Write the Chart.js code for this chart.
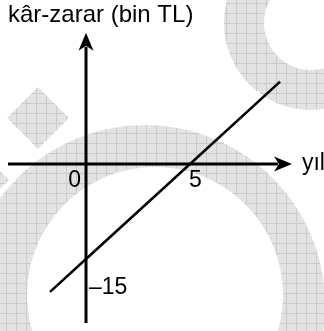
<!DOCTYPE html>
<html lang="tr">
<head>
    <meta charset="UTF-8">
    <title>kâr-zarar</title>
    <script src="https://cdn.jsdelivr.net/npm/chart.js"></script>
    <style>
        body, html {
            margin: 0;
            padding: 0;
            background: #ffffff;
            overflow: hidden;
        }
        canvas { display: block; }
    </style>
</head>
<body>
    <canvas id="karZarar" width="324" height="331"></canvas>

    <script>
    // values
    const lineX = [-1.73, 0, 5, 9.33];
    const lineY = [-20.2, -15, 0, 13];
    const xAxisRange = [-3.75, 9.9];
    const yAxisRange = [-25.1, 20.7];
    const xTicks = [0, 5];
    const xTickLabels = ['0', '5'];
    const yTicks = [-15];
    const yTickLabels = ['\u201315'];
    const yTitle = 'kâr-zarar (bin TL)';
    const xTitle = 'yıl';

    const FONT = "'Liberation Sans', Arial, sans-serif";

    // grey checkered watermark in the background
    const watermark = {
        id: 'watermark',
        beforeDraw(chart) {
            const ctx = chart.ctx;
            const pc = document.createElement('canvas');
            pc.width = 10; pc.height = 10;
            const p = pc.getContext('2d');
            p.fillStyle = '#e3e3e3';
            p.fillRect(0, 0, 10, 10);
            p.fillStyle = '#cbcbcb';
            p.fillRect(0, 0, 10, 1);
            p.fillRect(0, 0, 1, 10);
            const pattern = ctx.createPattern(pc, 'repeat');
            pattern.setTransform(new DOMMatrix([1, 0, 0, 1, 6, 3]));

            ctx.save();
            ctx.fillStyle = pattern;
            // diamonds
            [[38, 118], [-22, 180]].forEach(([cx, cy]) => {
                ctx.beginPath();
                ctx.moveTo(cx, cy - 31);
                ctx.lineTo(cx + 31, cy);
                ctx.lineTo(cx, cy + 31);
                ctx.lineTo(cx - 31, cy);
                ctx.closePath();
                ctx.fill();
            });
            // ring top right
            ctx.beginPath();
            ctx.arc(311, 23, 87, 0, Math.PI * 2);
            ctx.arc(311, 23, 47, 0, Math.PI * 2, true);
            ctx.fill('evenodd');
            // big arc
            ctx.beginPath();
            ctx.arc(145, 305, 180, 0, Math.PI * 2);
            ctx.arc(155, 295, 128, 0, Math.PI * 2, true);
            ctx.fill('evenodd');
            ctx.restore();
        }
    };

    function arrowHead(ctx, tx, ty, dir) {
        // dir: 'up' or 'right'
        ctx.save();
        ctx.translate(tx, ty);
        if (dir === 'up') ctx.rotate(-Math.PI / 2);
        ctx.beginPath();
        ctx.moveTo(0, 0);
        ctx.lineTo(-18, -7.5);
        ctx.lineTo(-13, 0);
        ctx.lineTo(-18, 7.5);
        ctx.closePath();
        ctx.fillStyle = '#000';
        ctx.fill();
        ctx.restore();
    }

    const axesAndLabels = {
        id: 'axesAndLabels',
        afterDatasetsDraw(chart) {
            const ctx = chart.ctx;
            const xs = chart.scales.x, ys = chart.scales.y;
            const x0 = xs.getPixelForValue(0), y0 = ys.getPixelForValue(0);

            ctx.save();
            ctx.strokeStyle = '#000';
            ctx.lineWidth = 3;
            // x axis
            const xl = xs.getPixelForValue(xAxisRange[0]);
            const xr = xs.getPixelForValue(xAxisRange[1]);
            ctx.beginPath();
            ctx.moveTo(xl, y0);
            ctx.lineTo(xr - 14, y0);
            ctx.stroke();
            arrowHead(ctx, xr, y0, 'right');
            // y axis
            const yb = ys.getPixelForValue(yAxisRange[0]);
            const yt = ys.getPixelForValue(yAxisRange[1]);
            ctx.beginPath();
            ctx.moveTo(x0, yb);
            ctx.lineTo(x0, yt + 14);
            ctx.stroke();
            arrowHead(ctx, x0, yt, 'up');

            ctx.fillStyle = '#000';
            ctx.textBaseline = 'alphabetic';
            ctx.textAlign = 'left';
            ctx.font = '24px ' + FONT;
            ctx.fillText(yTitle, 8, 22);

            ctx.font = '23px ' + FONT;
            ctx.fillText(xTitle, xr + 10, y0 + 6);

            // "0" sits left of the y axis, "5" right of its tick
            xTicks.forEach((v, i) => {
                const px = xs.getPixelForValue(v);
                const w = ctx.measureText(xTickLabels[i]).width;
                const left = v === 0 ? px - 5 - w : px - 1;
                ctx.fillText(xTickLabels[i], left, y0 + 23);
            });
            yTicks.forEach((v, i) => {
                const py = ys.getPixelForValue(v);
                ctx.fillText(yTickLabels[i], x0 + 3, py + 35);
            });
            ctx.restore();
        }
    };

    new Chart(document.getElementById('karZarar'), {
        type: 'scatter',
        data: {
            datasets: [{
                data: lineX.map((x, i) => ({ x: x, y: lineY[i] })),
                showLine: true,
                borderColor: '#000',
                borderWidth: 2.5,
                pointRadius: 0,
                fill: false
            }]
        },
        options: {
            responsive: false,
            animation: false,
            layout: { padding: 0 },
            plugins: { legend: { display: false }, tooltip: { enabled: false } },
            scales: {
                x: { type: 'linear', min: -4.135, max: 11.44, display: false },
                y: { type: 'linear', min: -26.37, max: 25.89, display: false }
            }
        },
        plugins: [watermark, axesAndLabels]
    });
    </script>
</body>
</html>
